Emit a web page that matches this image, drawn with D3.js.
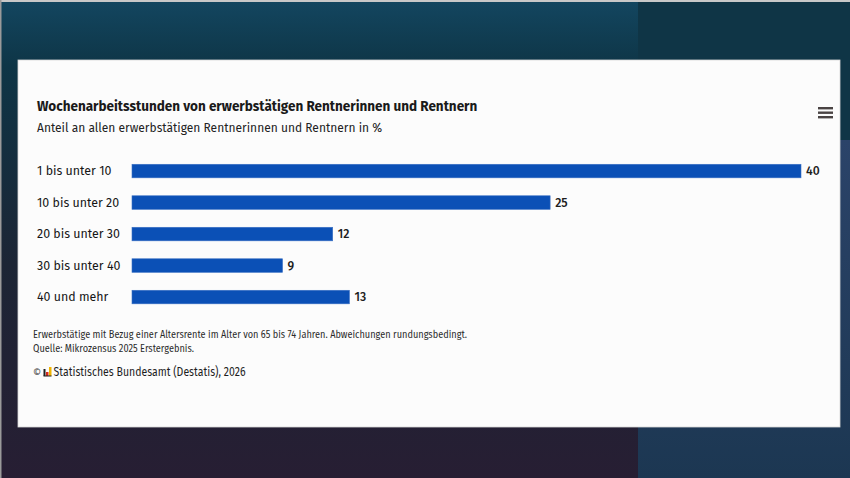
<!DOCTYPE html>
<html>
<head>
<meta charset="utf-8">
<script src="https://cdn.jsdelivr.net/npm/d3@7"></script>
<style>
  html, body { margin: 0; padding: 0; background: #1b2a3a; }
  svg { display: block; }
  text { font-family: "Fira Sans", Lato, "Noto Sans", sans-serif; }
</style>
</head>
<body>
<svg id="chart" width="850" height="478"></svg>
<script>
// data
var categories = ["1 bis unter 10", "10 bis unter 20", "20 bis unter 30", "30 bis unter 40", "40 und mehr"];
var values = [40, 25, 12, 9, 13];
var titleText = "Wochenarbeitsstunden von erwerbstätigen Rentnerinnen und Rentnern";
var subtitleText = "Anteil an allen erwerbstätigen Rentnerinnen und Rentnern in %";
var noteLines = ["Erwerbstätige mit Bezug einer Altersrente im Alter von 65 bis 74 Jahren. Abweichungen rundungsbedingt.",
    "Quelle: Mikrozensus 2025 Erstergebnis."];
var creditText = "Statistisches Bundesamt (Destatis), 2026";

var svg = d3.select("#chart");
var defs = svg.append("defs");

// background behind the card (screenshot of a page)
var gLeft = defs.append("linearGradient").attr("id", "bgLeft")
    .attr("x1", 0).attr("y1", 0).attr("x2", 0).attr("y2", 1);
gLeft.append("stop").attr("offset", "0%").attr("stop-color", "#134660");
gLeft.append("stop").attr("offset", "14%").attr("stop-color", "#0e3546");
gLeft.append("stop").attr("offset", "55%").attr("stop-color", "#1c2535");
gLeft.append("stop").attr("offset", "100%").attr("stop-color", "#271e33");

var gRight = defs.append("linearGradient").attr("id", "bgRight")
    .attr("x1", 0).attr("y1", 0).attr("x2", 0).attr("y2", 1);
gRight.append("stop").attr("offset", "0%").attr("stop-color", "#2b4369");
gRight.append("stop").attr("offset", "100%").attr("stop-color", "#1c3752");

svg.append("rect").attr("width", 850).attr("height", 478).attr("fill", "url(#bgLeft)");
svg.append("rect").attr("x", 638).attr("y", 0).attr("width", 212).attr("height", 140).attr("fill", "#0f3546");
svg.append("rect").attr("x", 638).attr("y", 140).attr("width", 212).attr("height", 338).attr("fill", "url(#bgRight)");
svg.append("rect").attr("x", 0).attr("y", 0).attr("width", 850).attr("height", 2).attr("fill", "#c8c8c8");
svg.append("rect").attr("x", 0).attr("y", 0).attr("width", 1.5).attr("height", 478).attr("fill", "#9a9a9a");

// white card
svg.append("rect").attr("x", 18).attr("y", 60).attr("width", 822).attr("height", 367)
    .attr("fill", "#fcfcfc").attr("stroke", "#d8d8d8").attr("stroke-width", 0.8);

svg.append("text").attr("x", 37).attr("y", 111)
    .attr("font-size", "13.5px").attr("font-weight", "bold").attr("fill", "#1a1a1a")
    .text(titleText);
svg.append("text").attr("x", 37).attr("y", 132)
    .attr("font-size", "12px").attr("fill", "#222")
    .text(subtitleText);

// hamburger menu
var menu = svg.append("g").attr("transform", "translate(818,107)");
menu.selectAll("rect").data([0, 1, 2]).enter().append("rect")
    .attr("x", 0).attr("y", function(d){ return d * 4.5; })
    .attr("width", 15).attr("height", 2.4).attr("fill", "#4a4444");

// scales
var x = d3.scaleLinear().domain([0, 40]).range([132, 801]);
var y = d3.scaleBand().domain(categories).range([155.3, 312.8])
    .paddingInner(0.57).paddingOuter(0.285);

var yAxis = svg.append("g").attr("transform", "translate(132,0)")
    .call(d3.axisLeft(y).tickSize(0).tickPadding(0));
yAxis.select(".domain").remove();
yAxis.selectAll("text")
    .attr("x", -95).attr("text-anchor", "start")
    .attr("font-family", "\"Fira Sans\", Lato, \"Noto Sans\", sans-serif")
    .attr("font-size", "12.4px").attr("fill", "#161616");

var rows = categories.map(function(c, i){ return {cat: c, val: values[i]}; });

svg.selectAll(".bar").data(rows).enter().append("rect")
    .attr("class", "bar")
    .attr("x", x(0))
    .attr("y", function(d){ return y(d.cat); })
    .attr("width", function(d){ return x(d.val) - x(0); })
    .attr("height", y.bandwidth())
    .attr("fill", "#0b50b6")
    .attr("stroke", "#3b70c4").attr("stroke-width", 0.6);

svg.selectAll(".val").data(rows).enter().append("text")
    .attr("class", "val")
    .attr("x", function(d){ return x(d.val) + 5; })
    .attr("y", function(d){ return y(d.cat) + y.bandwidth() / 2; })
    .attr("dy", "0.36em")
    .attr("font-size", "12.2px").attr("font-weight", 500).attr("fill", "#1e1e1e")
    .text(function(d){ return d.val; });

// notes (condensed face in the original)
var noteWidths = [434, 161];
svg.selectAll(".note").data(noteLines).enter().append("text")
    .attr("class", "note")
    .attr("x", 33)
    .attr("y", function(d, i){ return 338 + i * 13.5; })
    .attr("font-size", "10.2px").attr("fill", "#2a2a2a")
    .attr("textLength", function(d, i){ return noteWidths[i]; })
    .attr("lengthAdjust", "spacingAndGlyphs")
    .text(function(d){ return d; });

// credit line with the small logo
svg.append("text").attr("x", 33).attr("y", 376)
    .attr("font-size", "10px").attr("fill", "#444").text("©");
var logo = svg.append("g").attr("transform", "translate(43.5,367)");
logo.append("rect").attr("x", 0).attr("y", 2).attr("width", 2).attr("height", 7).attr("fill", "#222");
logo.append("rect").attr("x", 2.5).attr("y", 5).attr("width", 2.5).attr("height", 4).attr("fill", "#d42a1e");
logo.append("rect").attr("x", 5.5).attr("y", 0).attr("width", 2.5).attr("height", 9).attr("fill", "#f0b400");
logo.append("rect").attr("x", 0).attr("y", 8.5).attr("width", 8).attr("height", 1).attr("fill", "#222");
svg.append("text").attr("x", 53.5).attr("y", 376)
    .attr("font-size", "13px").attr("fill", "#1e1e1e")
    .attr("textLength", 192).attr("lengthAdjust", "spacingAndGlyphs")
    .text(creditText);
</script>
</body>
</html>
